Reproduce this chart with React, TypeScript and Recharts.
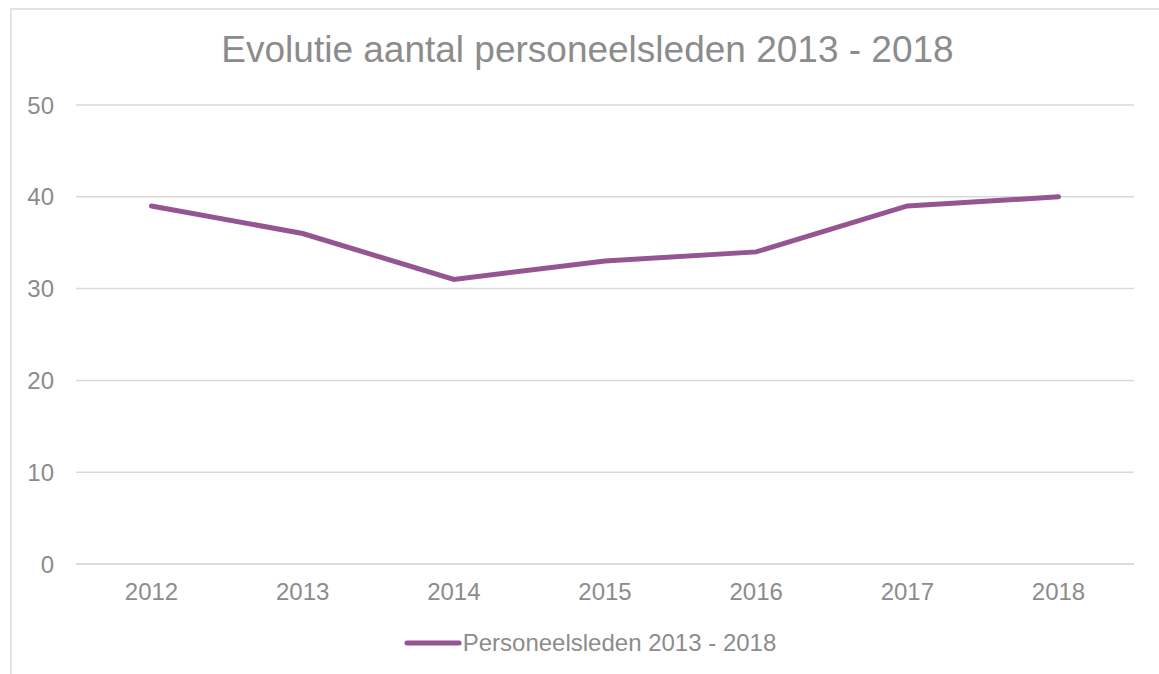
import React from 'react';
import { LineChart, Line, XAxis, YAxis, CartesianGrid } from 'recharts';

const years = ['2012', '2013', '2014', '2015', '2016', '2017', '2018'];
const staff = [39, 36, 31, 33, 34, 39, 40];
const yTicks = [0, 10, 20, 30, 40, 50];

const data = years.map((year, i) => ({ year, staff: staff[i] }));

const GREY = '#8c8c8c';
const PURPLE = '#955592';

const LegendLine: React.FC = () => (
   <div
      style={{
         position: 'absolute',
         left: 0,
         top: 628,
         width: 1180,
         height: 30,
         display: 'flex',
         justifyContent: 'center',
         alignItems: 'center',
         fontSize: 24,
         color: GREY,
      }}
   >
      <svg width={58} height={10} style={{ marginRight: 1 }}>
         <line x1={3} y1={5} x2={55} y2={5} stroke={PURPLE} strokeWidth={5} strokeLinecap="round" />
      </svg>
      <span>Personeelsleden 2013 - 2018</span>
   </div>
);

export default function App() {
   return (
      <div
         style={{
            position: 'absolute',
            left: 0,
            top: 0,
            width: 1159,
            height: 674,
            overflow: 'hidden',
            background: '#fff',
            fontFamily: '"Liberation Sans", Arial, sans-serif',
         }}
      >
         <div
            style={{
               position: 'absolute',
               left: 10,
               top: 8,
               width: 1160,
               height: 680,
               borderLeft: '2px solid #e3e3e3',
               borderTop: '2px solid #e3e3e3',
            }}
         />
         <div
            style={{
               position: 'absolute',
               top: 26,
               left: 16,
               width: 1143,
               textAlign: 'center',
               fontSize: 37,
               color: GREY,
               lineHeight: '48px',
            }}
         >
            Evolutie aantal personeelsleden 2013 - 2018
         </div>
         <LineChart
            width={1159}
            height={674}
            data={data}
            margin={{ top: 105, right: 25, bottom: 80, left: 10 }}
            style={{ position: 'absolute', left: 0, top: 0 }}
         >
            <CartesianGrid vertical={false} stroke="#d9d9d9" strokeWidth={1.5} />
            <XAxis
               dataKey="year"
               height={30}
               axisLine={{ stroke: '#d9d9d9', strokeWidth: 1.5 }}
               tickLine={false}
               tickSize={0}
               tickMargin={19}
               padding={{ left: 75.5, right: 75.5 }}
               tick={{ fill: GREY, fontSize: 24 }}
            />
            <YAxis
               width={66}
               domain={[0, 50]}
               ticks={yTicks}
               axisLine={false}
               tickLine={false}
               tickSize={0}
               tickMargin={22}
               tick={{ fill: GREY, fontSize: 24 }}
            />
            <Line
               type="linear"
               dataKey="staff"
               name="Personeelsleden 2013 - 2018"
               stroke={PURPLE}
               strokeWidth={5}
               strokeLinecap="round"
               dot={false}
               activeDot={false}
               isAnimationActive={false}
            />
         </LineChart>
         <LegendLine />
      </div>
   );
}
